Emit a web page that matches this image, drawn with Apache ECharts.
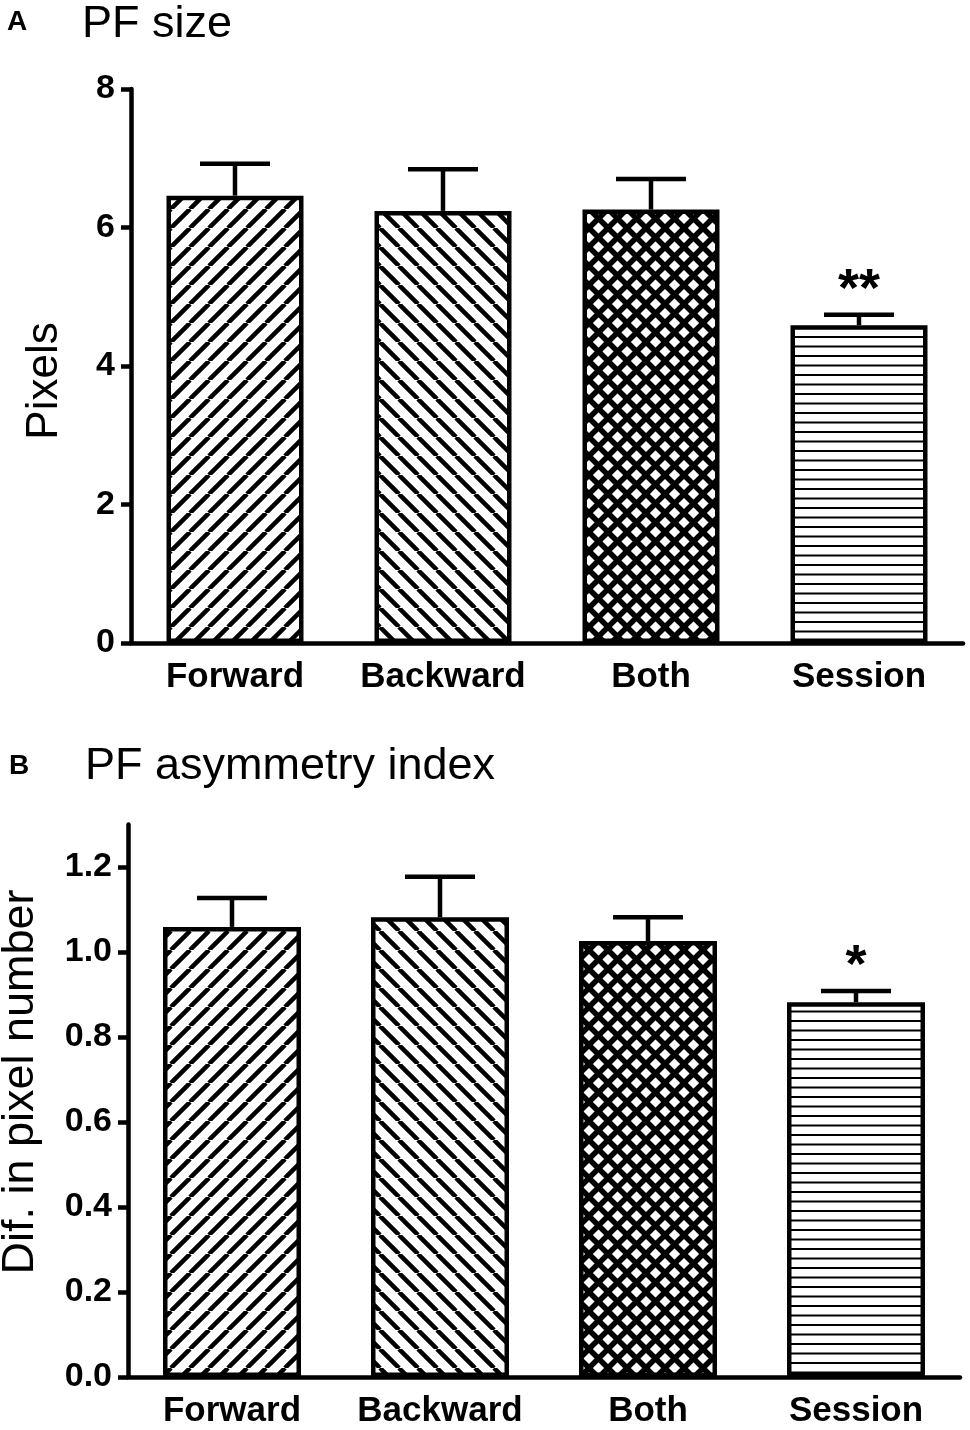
<!DOCTYPE html>
<html>
<head>
<meta charset="utf-8">
<script src="https://cdn.jsdelivr.net/npm/echarts@6/dist/echarts.min.js"></script>
<style>
    html, body {margin: 0; padding: 0; background: #fff;}
    #chartBox {width: 970px; height: 1430px;}
</style>
</head>
<body>
<div id="chartBox"></div>
<script>
var categories = ['Forward', 'Backward', 'Both', 'Session'];
// A: PF size (mean, upper SEM)
var sizeMean = [6.46, 6.24, 6.26, 4.59];
var sizeSem = [0.46, 0.60, 0.44, 0.15];
var sizeStars = ['', '', '', '**'];
var sizeTicks = [0, 2, 4, 6, 8];
// B: PF asymmetry index
var asymMean = [1.059, 1.082, 1.026, 0.882];
var asymSem = [0.068, 0.095, 0.056, 0.026];
var asymStars = ['', '', '', '*'];
var asymTicks = [0, 0.2, 0.4, 0.6, 0.8, 1.0, 1.2];
var fills = ['fwd', 'bwd', 'cross', 'horiz'];

var font = 'Liberation Sans, Arial, sans-serif';

// hatch textures for the bars
function makePattern(kind) {
    var c = document.createElement('canvas');
    var ctx = c.getContext('2d');
    var p = 19;
    c.width = p;
    c.height = p;
    ctx.fillStyle = '#fff';
    ctx.fillRect(0, 0, p, p);
    ctx.strokeStyle = '#000';
    ctx.beginPath();
    if (kind == 'horiz') {
        ctx.lineWidth = 2.2;
        ctx.moveTo(0, 4.5); ctx.lineTo(p, 4.5);
        ctx.moveTo(0, 14); ctx.lineTo(p, 14);
    } else {
        ctx.lineWidth = kind == 'cross' ? 5.5 : 4.5;
        for (var k = -1; k <= 1; k++) {
            if (kind == 'fwd' || kind == 'cross') {
                ctx.moveTo(k * p, p); ctx.lineTo(k * p + p, 0);
            }
            if (kind == 'bwd' || kind == 'cross') {
                ctx.moveTo(k * p, 0); ctx.lineTo(k * p + p, p);
            }
        }
    }
    ctx.stroke();
    return {image: c, repeat: 'repeat'};
}

function barData(values) {
    var list = [];
    for (var i = 0; i < values.length; i++) {
        list.push({
            value: values[i],
            itemStyle: {color: makePattern(fills[i]), borderColor: '#000', borderWidth: 4.5}
        });
    }
    return list;
}

function errData(mean, sem) {
    var list = [];
    for (var i = 0; i < mean.length; i++) {
        list.push([i, mean[i], sem[i]]);
    }
    return list;
}

function errRender(stars) {
    return function (params, api) {
        var i = api.value(0);
        var base = api.coord([i, api.value(1)]);
        var top = api.coord([i, api.value(1) + api.value(2)]);
        var half = 35;
        var style = {stroke: '#000', lineWidth: 4.5};
        var children = [
            {type: 'line', shape: {x1: base[0], y1: base[1], x2: top[0], y2: top[1]}, style: style},
            {type: 'line', shape: {x1: top[0] - half, y1: top[1], x2: top[0] + half, y2: top[1]}, style: style}
        ];
        if (stars[params.dataIndex]) {
            children.push({
                type: 'text',
                x: top[0], y: top[1] - 24,
                style: {
                    text: stars[params.dataIndex], font: 'bold 54px ' + font, fill: '#000',
                    align: 'center', verticalAlign: 'middle', textAlign: 'center', textVerticalAlign: 'middle'
                }
            });
        }
        return {type: 'group', children: children};
    };
}

var axisLineStyle = {color: '#000', width: 4.5};

function xAxisOpt(gridIndex) {
    return {
        type: 'category', gridIndex: gridIndex, data: categories,
        axisLine: {lineStyle: axisLineStyle},
        axisTick: {alignWithLabel: true, interval: 0, length: 14, lineStyle: axisLineStyle},
        axisLabel: {interval: 0, color: '#000', fontFamily: font, fontWeight: 'bold', fontSize: 35, margin: 17},
        splitLine: {show: false}
    };
}

function yAxisOpt(gridIndex, max, interval, ticks, digits) {
    return {
        type: 'value', gridIndex: gridIndex, min: 0, max: max, interval: interval,
        axisLine: {show: true, lineStyle: axisLineStyle},
        axisTick: {show: true, length: 10, lineStyle: axisLineStyle, customValues: ticks},
        axisLabel: {
            color: '#000', fontFamily: font, fontWeight: 'bold', fontSize: 34, margin: 16,
            customValues: ticks,
            formatter: function (v) { return v.toFixed(digits); }
        },
        splitLine: {show: false}
    };
}

var myChart1 = echarts.init(document.getElementById('chartBox'), null, {renderer: 'canvas'});
var option = {
    backgroundColor: '#fff',
    animation: false,
    grid: [
        {left: 131, right: 7, top: 89, height: 554},
        {left: 128, right: 10, top: 824.5, height: 552.5}
    ],
    xAxis: [xAxisOpt(0), xAxisOpt(1)],
    yAxis: [
        yAxisOpt(0, 8, 2, sizeTicks, 0),
        yAxisOpt(1, 1.3, 0.2, asymTicks, 1)
    ],
    graphic: [
        {type: 'text', x: 7, y: 22, style: {text: 'A', font: 'bold 28px ' + font, fill: '#000', verticalAlign: 'middle', textVerticalAlign: 'middle'}},
        {type: 'text', x: 82, y: 25, style: {text: 'PF size', font: '45px ' + font, fill: '#000', verticalAlign: 'middle', textVerticalAlign: 'middle'}},
        {type: 'text', x: 9, y: 766, style: {text: 'B', font: 'bold 28px ' + font, fill: '#000', verticalAlign: 'middle', textVerticalAlign: 'middle'}},
        {type: 'text', x: 85, y: 767, style: {text: 'PF asymmetry index', font: '45px ' + font, fill: '#000', verticalAlign: 'middle', textVerticalAlign: 'middle'}},
        {type: 'text', x: 45, y: 381, rotation: Math.PI / 2, style: {text: 'Pixels', font: '44px ' + font, fill: '#000', align: 'center', verticalAlign: 'middle', textAlign: 'center', textVerticalAlign: 'middle'}},
        {type: 'text', x: 21, y: 1082, rotation: Math.PI / 2, style: {text: 'Dif. in pixel number', font: '45px ' + font, fill: '#000', align: 'center', verticalAlign: 'middle', textAlign: 'center', textVerticalAlign: 'middle'}}
    ],
    series: [
        {type: 'bar', xAxisIndex: 0, yAxisIndex: 0, barWidth: 137, data: barData(sizeMean), silent: true},
        {type: 'custom', xAxisIndex: 0, yAxisIndex: 0, z: 5, renderItem: errRender(sizeStars), data: errData(sizeMean, sizeSem), silent: true},
        {type: 'bar', xAxisIndex: 1, yAxisIndex: 1, barWidth: 138, data: barData(asymMean), silent: true},
        {type: 'custom', xAxisIndex: 1, yAxisIndex: 1, z: 5, renderItem: errRender(asymStars), data: errData(asymMean, asymSem), silent: true}
    ]
};
myChart1.setOption(option);
</script>
</body>
</html>
